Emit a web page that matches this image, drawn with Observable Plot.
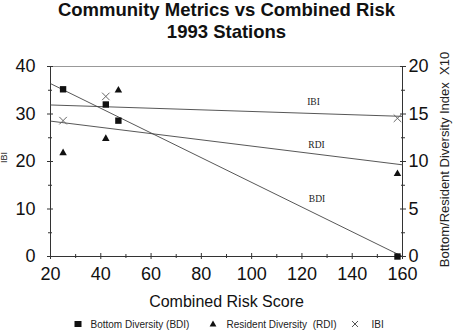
<!DOCTYPE html>
<html><head><meta charset="utf-8">
<script src="https://cdn.jsdelivr.net/npm/d3@7"></script>
<script src="https://cdn.jsdelivr.net/npm/@observablehq/plot@0.6"></script>
<style>
html,body{margin:0;padding:0;background:#fff}
body{width:453px;height:332px;overflow:hidden;position:relative;font-family:"Liberation Sans",Arial,sans-serif;color:#111}
#title{position:absolute;top:0;left:0;width:453px;font-weight:bold;font-size:18.5px;line-height:22.5px;text-align:center;margin-top:-1.5px}
#chart{position:absolute;top:43px;left:0}
#chart svg{display:block}
#legend{position:absolute;top:314px;left:0;width:453px;height:18px;font-size:10px;color:#222}
#legend .item{position:absolute;top:4.5px;line-height:12px;white-space:pre}
#legend svg{position:absolute;overflow:visible}
</style></head><body>
<div id="title">Community Metrics vs Combined Risk<br>1993 Stations</div>
<div id="chart"></div>
<div id="legend"></div>
<script>
// ---- data ----
const stationRisk = [25, 42, 47, 158];          // combined risk score
const bdiValues   = [17.6, 16.0, 14.3, 0.0];    // bottom diversity index x10 (right axis)
const rdiValues   = [10.9, 12.4, 17.5, 8.7];    // resident diversity index x10 (right axis)
const ibiRisk     = [25, 42, 158];
const ibiValues   = [28.6, 33.7, 29.1];         // IBI (left axis)
const fitRisk     = [20, 160];
const ibiFit      = [31.9, 29.5];               // left axis
const rdiFit      = [14.25, 9.65];              // right axis
const bdiFit      = [18.2, 0.0];                // right axis
const fitNames    = ["IBI", "RDI", "BDI"];
const fitLabelRisk  = [124.6, 125.8, 126];
const fitLabelValue = [32.5, 11.75, 6.1];       // IBI on left axis, RDI/BDI on right axis
const xTicks      = [20, 40, 60, 80, 100, 120, 140, 160];
const xMinor      = [30, 50, 70, 90, 110, 130, 150];
const leftTicks   = [0, 10, 20, 30, 40];
const leftMinor   = [5, 15, 25, 35];
const rightTicks  = [0, 5, 10, 15, 20];
const rightMinor  = [2.5, 7.5, 12.5, 17.5];
const xLabel      = "Combined Risk Score";
const leftLabel   = "IBI";
const rightLabel  = "Bottom/Resident Diversity Index  X10";
const legendNames = ["Bottom Diversity (BDI)", "Resident Diversity  (RDI)", "IBI"];

const k = leftTicks[leftTicks.length - 1] / rightTicks[rightTicks.length - 1]; // right -> left units

const bdi = stationRisk.map((x, i) => ({x, y: bdiValues[i] * k}));
const rdi = stationRisk.map((x, i) => ({x, y: rdiValues[i] * k}));
const ibi = ibiRisk.map((x, i) => ({x, y: ibiValues[i]}));
const fits = [
  ...fitRisk.map((x, i) => ({s: "IBI", x, y: ibiFit[i]})),
  ...fitRisk.map((x, i) => ({s: "RDI", x, y: rdiFit[i] * k})),
  ...fitRisk.map((x, i) => ({s: "BDI", x, y: bdiFit[i] * k}))
];
const fitLabels = fitNames.map((name, i) => ({name, x: fitLabelRisk[i], y: i === 0 ? fitLabelValue[i] : fitLabelValue[i] * k}));

const axisColor = "#333";
const blank = () => "";

const chart = Plot.plot({
  width: 453,
  height: 271,
  marginTop: 23,
  marginBottom: 58,
  marginLeft: 50,
  marginRight: 51,
  style: {fontFamily: "'Liberation Sans', Arial, sans-serif", fontSize: "18px", color: "#111", background: "#fff", overflow: "visible"},
  x: {domain: d3.extent(xTicks)},
  y: {domain: d3.extent(leftTicks)},
  marks: [
    Plot.ruleY([d3.max(leftTicks)], {stroke: "#999", strokeWidth: 1}),
    // tick marks (crossing the axis lines)
    Plot.axisX({ticks: xTicks, tickSize: 6, dy: -3, tickFormat: blank, label: null, stroke: axisColor}),
    Plot.axisX({ticks: xMinor, tickSize: 4, dy: -2, tickFormat: blank, label: null, stroke: axisColor}),
    Plot.axisY({ticks: leftTicks, tickSize: 6, dx: 3, tickFormat: blank, label: null, stroke: axisColor}),
    Plot.axisY({ticks: leftMinor, tickSize: 4, dx: 2, tickFormat: blank, label: null, stroke: axisColor}),
    Plot.axisY({anchor: "right", ticks: rightTicks.map(v => v * k), tickSize: 6, dx: -3, tickFormat: blank, label: null, stroke: axisColor}),
    Plot.axisY({anchor: "right", ticks: rightMinor.map(v => v * k), tickSize: 4, dx: -2, tickFormat: blank, label: null, stroke: axisColor}),
    // tick labels
    Plot.axisX({ticks: xTicks, tickSize: 0, tickPadding: 11, label: null, fontSize: 18}),
    Plot.axisY({ticks: leftTicks, tickSize: 0, tickPadding: 15, label: null, fontSize: 18}),
    Plot.axisY({anchor: "right", ticks: rightTicks.map(v => v * k), tickFormat: d => d / k, tickSize: 0, tickPadding: 6, label: null, fontSize: 18}),
    // axis lines
    Plot.ruleX(d3.extent(xTicks), {stroke: axisColor, strokeWidth: 1}),
    Plot.ruleY([d3.min(leftTicks)], {stroke: axisColor, strokeWidth: 1}),
    // fit lines
    Plot.line(fits, {x: "x", y: "y", z: "s", stroke: "#444", strokeWidth: 0.9}),
    Plot.text(fitLabels, {x: "x", y: "y", text: "name", fontFamily: "'Liberation Serif', 'DejaVu Serif', serif", fontSize: 9.5, fill: "#222"}),
    // points
    Plot.dot(bdi, {x: "x", y: "y", symbol: "square", r: 3.6, fill: "#111"}),
    Plot.dot(rdi, {x: "x", y: "y", symbol: "triangle", r: 2.8, fill: "#111"}),
    Plot.dot(ibi, {x: "x", y: "y", symbol: "times", r: 3.5, stroke: "#666", strokeWidth: 1}),
    // axis labels
    Plot.text([xLabel], {text: d => d, frameAnchor: "bottom", textAnchor: "middle", lineAnchor: "middle", dy: 45, fontSize: 16, fill: "#111"}),
    Plot.text([leftLabel], {text: d => d, frameAnchor: "left", textAnchor: "middle", lineAnchor: "middle", dx: -46, dy: -4, rotate: -90, fontSize: 9, fill: "#222"}),
    Plot.text([rightLabel], {text: d => d, frameAnchor: "right", textAnchor: "middle", lineAnchor: "middle", dx: 42, dy: -2, rotate: -90, fontSize: 13, fill: "#222"})
  ]
});
document.getElementById("chart").appendChild(chart);

// legend
const legend = document.getElementById("legend");
const ns = "http://www.w3.org/2000/svg";
const legendSymbols = [
  {cx: 77.7, draw: () => `<rect x="-3.5" y="-3" width="7" height="6" fill="#111"/>`, textX: 90.5},
  {cx: 213, draw: () => `<path d="M0,-3.6L3.4,2.6L-3.4,2.6Z" fill="#111"/>`, textX: 226.5},
  {cx: 355, draw: () => `<path d="M-3,-3L3,3M-3,3L3,-3" stroke="#555" stroke-width="1" fill="none"/>`, textX: 371.5}
];
legendSymbols.forEach((s, i) => {
  const svg = document.createElementNS(ns, "svg");
  svg.setAttribute("width", 1); svg.setAttribute("height", 1);
  svg.style.left = s.cx + "px"; svg.style.top = "9.5px";
  svg.innerHTML = s.draw();
  legend.appendChild(svg);
  const span = document.createElement("span");
  span.className = "item";
  span.style.left = s.textX + "px";
  span.textContent = legendNames[i];
  legend.appendChild(span);
});
</script>
</body></html>
